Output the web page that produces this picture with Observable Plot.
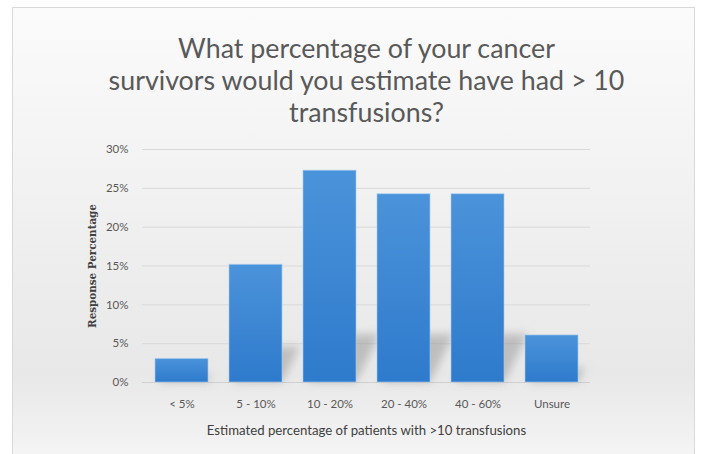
<!DOCTYPE html>
<html><head><meta charset="utf-8">
<script src="https://cdn.jsdelivr.net/npm/d3@7"></script>
<script src="https://cdn.jsdelivr.net/npm/@observablehq/plot@0.6"></script>
<style>
html,body{margin:0;padding:0;background:#fff;}
#wrap{position:relative;width:701px;height:454px;overflow:hidden;}
#frame{position:absolute;left:12px;top:7px;width:683px;height:460px;border:1px solid #d9d9d9;box-sizing:border-box;
 background:linear-gradient(180deg,#fbfbfb 0%,#f4f4f4 30%,#ececec 62%,#e8e8e8 80%,#f1f1f1 93%,#f6f6f6 100%);}
#chart{position:absolute;left:0;top:0;}
</style></head><body>
<div id="wrap"><div id="frame"></div><div id="chart"></div></div>
<script>
const categories = ["< 5%", "5 - 10%", "10 - 20%", "20 - 40%", "40 - 60%", "Unsure"];
const responsePct = [3.03, 15.15, 27.27, 24.24, 24.24, 6.06];
const yTicks = [0, 5, 10, 15, 20, 25, 30];
const titleLines = ["What percentage of your cancer", "survivors would you estimate have had > 10", "transfusions?"];
const yLabel = "Response Percentage";
const xLabel = "Estimated percentage of patients with >10 transfusions";

const data = categories.map((c, i) => ({category: c, value: responsePct[i]}));

const defs = () => {
  const d = d3.create("svg:defs");
  const g = d.append("linearGradient").attr("id", "barGrad").attr("x1", 0).attr("y1", 0).attr("x2", 0).attr("y2", 1);
  g.append("stop").attr("offset", "0%").attr("stop-color", "#4b93da");
  g.append("stop").attr("offset", "100%").attr("stop-color", "#2e7acc");
  const f = d.append("filter").attr("id", "shadowBlur").attr("x", "-50%").attr("y", "-50%").attr("width", "200%").attr("height", "200%");
  f.append("feGaussianBlur").attr("stdDeviation", 4);
  return d.node();
};

const shadows = (index, scales) => {
  const {x, y} = scales;
  const bw = x.bandwidth();
  const g = d3.create("svg:g").attr("filter", "url(#shadowBlur)");
  const y0 = y(0);
  data.forEach(d => {
    const x1 = x(d.category), x2 = x1 + bw;
    const h = y0 - y(d.value);
    const sh = Math.min(h * 0.3, 48);
    const dx = sh * 0.5;
    g.append("path")
      .attr("d", `M${x1 + 4},${y0}L${x2},${y0}L${x2 + dx},${y0 - sh}L${x1 + 4 + dx},${y0 - sh}Z`)
      .attr("fill", "#8a8a8a").attr("fill-opacity", 0.45);
  });
  return g.node();
};

const fontMain = "Lato, 'Open Sans', sans-serif";

const chart = Plot.plot({
  width: 701,
  height: 454,
  marginLeft: 142,
  marginRight: 111,
  marginTop: 149,
  marginBottom: 72,
  style: {background: "transparent", fontFamily: fontMain, color: "#595959"},
  x: {domain: categories, paddingInner: 0.29, paddingOuter: 0.145, label: null},
  y: {domain: [0, 30], label: null},
  marks: [
    defs,
    Plot.gridY({ticks: yTicks, stroke: "#d9d9d9", strokeOpacity: 1}),
    Plot.ruleY([0], {stroke: "#d0d0d0"}),
    shadows,
    Plot.barY(data, {x: "category", y: "value", fill: "url(#barGrad)", stroke: "#a9cdef", strokeOpacity: 0.6, strokeWidth: 1}),
    Plot.axisY({ticks: yTicks, tickFormat: d => d + "%", tickSize: 0, tickPadding: 14, fontSize: 11.5, label: null}),
    Plot.axisX({tickSize: 0, tickPadding: 17, fontSize: 11.5, label: null}),
    Plot.text([yLabel], {frameAnchor: "left", textAnchor: "middle", dx: -50, rotate: -90, fontSize: 11.5, fontWeight: "bold", fontFamily: "'DejaVu Serif Condensed', 'DejaVu Serif', serif", fill: "#404040"}),
    Plot.text([xLabel], {frameAnchor: "bottom", dy: 52, fontSize: 13.2, fill: "#404040"}),
    Plot.text([titleLines.join("\n")], {frameAnchor: "top", lineAnchor: "top", dy: -114, fontSize: 26.8, lineHeight: 32 / 26.8, fill: "#595959"})
  ]
});
document.getElementById("chart").appendChild(chart);
</script>
</body></html>
